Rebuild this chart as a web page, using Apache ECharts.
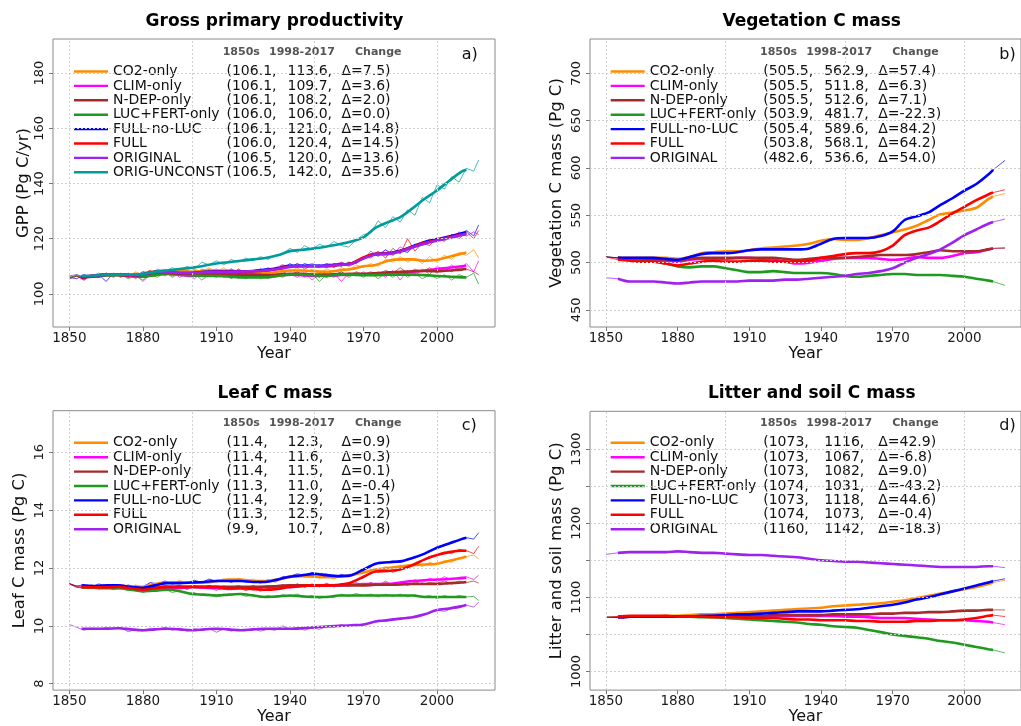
<!DOCTYPE html>
<html>
<head>
<meta charset="utf-8">
<script src="https://cdn.jsdelivr.net/npm/echarts@6/dist/echarts.min.js"></script>
<style>
  html, body { margin: 0; padding: 0; background: #fff; }
  #chart { width: 1021px; height: 726px; }
</style>
</head>
<body>
<div id="chart"></div>
<script>
// Model runs, in legend order, with their line colours
const runNames = ['CO2-only', 'CLIM-only', 'N-DEP-only', 'LUC+FERT-only', 'FULL-no-LUC', 'FULL', 'ORIGINAL', 'ORIG-UNCONST'];
const runColors = ['#ff8c00', '#ff00ff', '#a52a2a', '#1f9a1f', '#0000ff', '#ff0000', '#a020f0', '#009b9b'];

// Axis ticks and grid positions
const xTicks = [1850, 1880, 1910, 1940, 1970, 2000];
const xGridLines = [1850, 1900, 1950, 2000];
const gppTicks = [100, 120, 140, 160, 180];
const vegTicks = [450, 500, 550, 600, 650, 700];
const leafTicks = [8, 10, 12, 14, 16];
const soilTicks = [1000, 1050, 1100, 1150, 1200, 1250, 1300];
const soilTickLabels = [1000, 1100, 1200, 1300];

// Year columns
const annualYears = [1850,1853,1856,1859,1862,1865,1868,1871,1874,1877,
  1880,1883,1886,1889,1892,1895,1898,1901,1904,1907,
  1910,1913,1916,1919,1922,1925,1928,1931,1934,1937,
  1940,1943,1946,1949,1952,1955,1958,1961,1964,1967,
  1970,1973,1976,1979,1982,1985,1988,1991,1994,1997,
  2000,2003,2006,2009,2012,2015,2017];
const smoothYears = [1855,1860,1865,1870,1875,1880,1885,1890,1895,1900,
  1905,1910,1915,1920,1925,1930,1935,1940,1945,1950,
  1955,1960,1965,1970,1975,1980,1985,1990,1995,2000,
  2005,2010,2012];
const stockYears = [1850,1855,1860,1865,1870,1875,1880,1885,1890,1895,
  1900,1905,1910,1915,1920,1925,1930,1935,1940,1945,
  1950,1955,1960,1965,1970,1975,1980,1985,1990,1995,
  2000,2005,2010,2012,2017];

// GPP (Pg C/yr): annual values, one row per run
const gppAnnual = [
  [106,106.5,105.5,107,106.5,107.5,106.5,107.5,106,108, 107,108.5,107.5,109,108,109,107.5,109,108,109.5, 108,109.5,107.5,109,107.5,108.5,107,108.5,107,109, 108,109.5,107.5,109,107.5,109,108,109.5,108.5,110.5, 109.5,111,110,112.5,111.5,113.5,111.5,113,111,113.5, 111.5,114,112.5,115,114,116,113],
  [105.5,106.5,105,107,106,107,106,107.5,106,107, 104.5,107,108,106.5,108,106,107.5,105.5,107.5,106.5, 108,106,107.5,105.5,107.5,106,107.5,105.5,107,106, 107.5,106,107.5,105,107,106,107.5,104.5,107.5,106.5, 108,106.5,108,106,108.5,105,108.5,106.5,109,107, 110,108.5,110.5,109,111,108,112],
  [106,106.5,105.5,106.5,106,107,106.5,107,106,107, 106,107.5,107,108,106.5,108,106.5,107.5,106.5,108, 106.5,107.5,106,107.5,106.5,107.5,106,107.5,106.5,108, 107,108,106.5,107.5,106,108,107,108,106.5,108, 107,108,107,108.5,107.5,109.5,107.5,109,108,109.5, 107.5,109.5,108,110,109,108,107],
  [106,106.5,105.5,106.5,106,107,106.5,107,105.5,106.5, 105,107,106,108,106,107.5,106.5,107.5,105,107, 106,107.5,105.5,107,105.5,107,105.5,107,106,107.5, 106.5,108,106,107.5,104.5,107,106,108,106,107.5, 106,107.5,105.5,107.5,106,108,106,107.5,105.5,107, 105.5,107,105,107,106,107.5,103.5],
  [106,105.5,107,106,107,104.5,107.5,106.5,107,106.5, 108,107.5,108.5,107.5,108,107,108.5,107.5,108.5,107.5, 108.5,107.5,109,107.5,108.5,108,109,108,109.5,109, 111,109.5,111,110,110.5,109.5,111,110,111.5,111, 113,114.5,114,116,114,116,115,117.5,118.5,119, 120,119.5,121.5,121,123,121,125],
  [105.5,106.5,105,107,106.5,107.5,107,106,107.5,105.5, 107.5,108.5,107,108.5,107,108.5,106.5,108.5,107,109, 107.5,108.5,107,109,107.5,108.5,107,109.5,108.5,110.5, 109.5,111,109,110.5,109.5,111,109.5,111.5,110,111.5, 113.5,113,115.5,113,116.5,114.5,120,115.5,118.5,117.5, 120.5,119,121.5,120,122.5,120,123],
  [106.5,107,106,107,106.5,107.5,107,107,106.5,107.5, 106.5,108,108.5,107.5,108.5,107,108.5,107,109,108, 109,107.5,109,108,108.5,107.5,109,108,109.5,110.5, 109.5,111,110,111,110,111,110.5,111.5,110.5,112, 112.5,115.5,113.5,116,114.5,117,115.5,118,117.5,120, 119,120.5,120,122.5,121,122.5,121.5],
  [105.5,107,106,106.5,107.5,106.5,107.5,106.5,107.5,106, 108,107,109,108,109.5,108.5,110,109,111.5,110.5, 112,110.5,112.5,111.5,113,112,113.5,112.5,114,114.5, 116.5,115,117.5,116,118,117,119,117.5,117,119.5, 121.5,122,126.5,124,128,126,130.5,128.5,135,133, 139.5,138,142.5,140.5,145.5,144.5,148.5]
];
// GPP running means
const gppSmooth = [
  [106.2,106.6,107,107,106.8,107,108,108.5,108.3,108, 108.3,108.5,108.5,108,107.8,107.6,108,108.5,108.5,108.2, 108,108.5,109,110,110.5,112,112.5,112.5,112,112.4, 113.5,114.6,115],
  [106,106.3,106.8,107,106.5,106.2,107,107.5,107,106.5, 106.8,107,107,107,106.8,106.5,106.8,107,106.8,106.5, 106.5,106.8,107,107,107.2,107.5,107.5,108,108.5,109, 109.5,110,110.2],
  [106,106.3,106.8,107,106.7,106.5,107,107.5,107.3,107, 107,107,107,107,107,106.8,107,107.3,107.3,107, 107,107.2,107.3,107.3,107.5,107.8,108,108.2,108.3,108.2, 108.5,108.8,109],
  [106,106.3,106.8,106.8,106.5,106.3,106.8,107.2,107,106.7, 106.5,106.5,106.3,106,106,106,106.5,107,107,106.8, 106.5,107,107,106.8,106.8,107,107,107,106.8,106.5, 106.3,106,106],
  [106,106.5,107,107,106.7,107,108,107.8,107.6,107.6, 108,108.2,108.2,108.2,108.3,108.8,109.3,110.2,110.2,110.2, 110.3,110.6,111,113,114.5,114.7,115.6,117.2,118.8,119.8, 120.8,122,122.3],
  [106,106.5,107,107,106.6,107,108,107.6,107.5,107.5, 107.8,108,108,108,108.2,108.5,109,110,110,110, 110,110.5,111,113.2,114.5,114.5,115.5,117,118.5,119.5, 120.5,121.5,121.8],
  [106.5,106.6,107,107,106.8,107,107.8,107.8,107.6,107.6, 107.8,108,108,108.1,108.2,108.5,109,109.8,110,110, 110.2,110.5,110.8,112.8,114.3,114.5,115.3,116.8,118.2,119.3, 120.3,121.3,121.6],
  [106.5,106.6,107,107,107,107.2,108,108.5,109,109.5, 110.2,111,111.5,112,112.5,113,114,115.5,116,116.5, 117.2,118,119,120.5,124,126,127.8,131,134.5,137.5, 141,144.3,145]
];
const gppBase = [106.1, 106.1, 106.1, 106.0, 106.1, 106.0, 106.5, 106.5];
const gppRecent = [113.6, 109.7, 108.2, 106.0, 121.0, 120.4, 120.0, 142.0];
const gppChange = [7.5, 3.6, 2.0, 0.0, 14.8, 14.5, 13.6, 35.6];

// Vegetation C mass (Pg C)
const vegStock = [
  [506,505,505,505,505,505,504,506,510,511, 512,512,513,515,516,517,518,520,523,525, 524,524,526,529,532,535,539,545,551,553, 555,558,567,570,573],
  [506,505,503,503,503,502,501,503,504,504, 504,505,505,504,503,501,499,500,502,504, 505,505,505,504,503,504,506,505,505,507, 510,511,514,515,516],
  [506,505,504,504,504,503,502,504,505,505, 505,505,505,505,505,504,503,504,505,505, 505,506,507,508,508,508,509,511,513,512, 512,512,514,515,515],
  [506,505,503,502,501,499,496,495,496,496, 494,492,490,490,491,490,489,489,489,488, 486,485,486,487,488,488,487,487,487,486, 485,483,481,480,476],
  [506,505,505,505,505,504,503,506,509,510, 510,511,513,514,514,514,514,515,520,525, 526,526,526,528,533,545,549,553,561,568, 576,583,593,598,608],
  [506,503,502,501,501,499,497,499,501,502, 501,501,502,502,501,501,501,502,505,507, 509,510,510,512,518,529,534,537,544,552, 559,566,572,574,577],
  [484,483,480,480,480,479,478,479,480,480, 480,480,481,481,481,482,482,483,484,485, 486,488,489,491,494,500,505,509,514,521, 529,535,541,543,546]
];
const vegBase = [505.5, 505.5, 505.5, 503.9, 505.4, 503.8, 482.6];
const vegRecent = [562.9, 511.8, 512.6, 481.7, 589.6, 568.1, 536.6];
const vegChange = [57.4, 6.3, 7.1, -22.3, 84.2, 64.2, 54.0];

// Leaf C mass (Pg C)
const leafAnnual = [
  [11.45,11.38,11.32,11.42,11.36,11.4,11.33,11.42,11.3,11.42, 11.32,11.48,11.42,11.55,11.45,11.58,11.46,11.55,11.45,11.6, 11.5,11.62,11.52,11.65,11.55,11.62,11.5,11.6,11.5,11.68, 11.65,11.78,11.68,11.75,11.65,11.72,11.62,11.75,11.68,11.82, 11.82,11.95,11.9,12.05,11.95,12.1,12.0,12.15,12.05,12.2, 12.12,12.25,12.2,12.35,12.4,12.45,12.32],
  [11.45,11.33,11.38,11.3,11.4,11.32,11.38,11.28,11.35,11.22, 11.33,11.38,11.25,11.35,11.28,11.38,11.25,11.4,11.3,11.35, 11.22,11.35,11.25,11.3,11.28,11.4,11.3,11.38,11.32,11.42, 11.3,11.45,11.35,11.42,11.35,11.48,11.35,11.45,11.38,11.5, 11.4,11.5,11.4,11.55,11.42,11.5,11.45,11.6,11.5,11.65, 11.55,11.7,11.6,11.68,11.7,11.6,11.75],
  [11.48,11.35,11.3,11.38,11.3,11.35,11.28,11.35,11.28,11.38, 11.25,11.35,11.3,11.38,11.32,11.4,11.3,11.38,11.32,11.4, 11.3,11.38,11.33,11.4,11.3,11.38,11.32,11.38,11.3,11.42, 11.35,11.45,11.35,11.42,11.38,11.45,11.35,11.45,11.38,11.45, 11.38,11.48,11.4,11.5,11.42,11.5,11.4,11.52,11.45,11.5, 11.48,11.55,11.45,11.55,11.5,11.55,11.48],
  [11.45,11.35,11.3,11.35,11.28,11.32,11.25,11.3,11.22,11.25, 11.15,11.25,11.2,11.28,11.15,11.22,11.12,11.15,11.05,11.1, 11.0,11.1,11.05,11.12,11.02,11.08,10.98,11.05,10.98,11.08, 11.02,11.1,11.0,11.05,10.95,11.02,10.98,11.1,11.02,11.12, 11.05,11.1,11.0,11.1,11.02,11.1,11.0,11.08,11.0,11.05, 10.95,11.05,10.98,11.05,11.0,11.02,10.88],
  [11.45,11.38,11.42,11.35,11.45,11.38,11.42,11.3,11.42,11.32, 11.35,11.5,11.45,11.55,11.45,11.52,11.48,11.58,11.5,11.62, 11.55,11.6,11.5,11.6,11.52,11.55,11.48,11.58,11.55,11.7, 11.72,11.8,11.75,11.85,11.78,11.8,11.68,11.78,11.72,11.8, 11.95,12.05,12.2,12.2,12.25,12.2,12.3,12.35,12.45,12.6, 12.7,12.8,12.85,12.95,13.05,13.0,13.22],
  [11.45,11.35,11.3,11.38,11.3,11.35,11.28,11.35,11.25,11.32, 11.2,11.3,11.35,11.4,11.32,11.4,11.3,11.38,11.3,11.4, 11.32,11.35,11.25,11.32,11.22,11.3,11.2,11.3,11.25,11.38, 11.32,11.42,11.35,11.45,11.35,11.42,11.38,11.45,11.48,11.6, 11.65,11.85,11.9,11.95,11.85,11.95,12.0,12.15,12.25,12.4, 12.45,12.55,12.5,12.65,12.6,12.5,12.75],
  [10.05,9.95,9.85,9.92,9.88,9.95,9.9,9.95,9.8,9.88, 9.82,9.92,9.88,9.95,9.85,9.92,9.82,9.9,9.85,9.92, 9.78,9.9,9.82,9.88,9.85,9.9,9.82,9.88,9.85,10.0, 9.88,9.95,9.85,9.95,9.88,9.98,9.95,10.05,9.98,10.05, 10.02,10.12,10.2,10.15,10.25,10.22,10.3,10.28,10.35,10.45, 10.55,10.5,10.6,10.62,10.72,10.65,10.82]
];
const leafSmooth = [
  [11.4,11.35,11.35,11.4,11.35,11.35,11.45,11.5,11.5,11.5, 11.5,11.55,11.6,11.6,11.55,11.55,11.6,11.7,11.72,11.7, 11.68,11.7,11.75,11.85,11.95,12.0,12.05,12.1,12.12,12.15, 12.25,12.35,12.4],
  [11.35,11.35,11.35,11.35,11.3,11.3,11.3,11.3,11.3,11.35, 11.32,11.3,11.28,11.3,11.32,11.35,11.35,11.35,11.38,11.4, 11.4,11.4,11.42,11.45,11.45,11.45,11.5,11.55,11.58,11.6, 11.62,11.65,11.66],
  [11.35,11.33,11.33,11.35,11.32,11.3,11.32,11.35,11.35,11.35, 11.35,11.35,11.35,11.35,11.35,11.35,11.38,11.4,11.4,11.4, 11.4,11.4,11.4,11.4,11.42,11.42,11.43,11.45,11.45,11.45, 11.48,11.5,11.52],
  [11.35,11.32,11.3,11.3,11.25,11.2,11.22,11.25,11.2,11.1, 11.08,11.05,11.08,11.1,11.05,11.0,11.02,11.05,11.02,11.0, 11.0,11.05,11.05,11.05,11.05,11.05,11.05,11.05,11.0,11.0, 11.0,11.0,11.0],
  [11.4,11.38,11.4,11.4,11.35,11.32,11.4,11.48,11.48,11.5, 11.52,11.55,11.55,11.55,11.52,11.52,11.6,11.7,11.75,11.8, 11.75,11.72,11.75,11.95,12.15,12.2,12.23,12.35,12.5,12.7, 12.85,13.0,13.05],
  [11.35,11.33,11.33,11.35,11.3,11.25,11.3,11.35,11.35,11.35, 11.35,11.35,11.3,11.3,11.27,11.25,11.28,11.35,11.38,11.4, 11.4,11.42,11.5,11.7,11.88,11.9,11.95,12.1,12.3,12.45, 12.55,12.6,12.6],
  [9.9,9.9,9.9,9.92,9.88,9.85,9.88,9.9,9.88,9.85, 9.88,9.9,9.88,9.85,9.88,9.9,9.9,9.9,9.92,9.95, 9.98,10.0,10.02,10.05,10.15,10.2,10.25,10.3,10.4,10.55, 10.6,10.68,10.72]
];
const leafBase = [11.4, 11.4, 11.4, 11.3, 11.4, 11.3, 9.9];
const leafRecent = [12.3, 11.6, 11.5, 11.0, 12.9, 12.5, 10.7];
const leafChange = [0.9, 0.3, 0.1, -0.4, 1.5, 1.2, 0.8];

// Litter and soil C mass (Pg C)
const soilStock = [
  [1073,1073,1074,1074,1074,1075,1075,1076,1077,1077, 1078,1079,1080,1081,1082,1083,1084,1085,1086,1088, 1089,1090,1091,1092,1094,1096,1099,1102,1105,1108, 1111,1114,1118,1120,1123],
  [1073,1073,1074,1074,1074,1074,1074,1074,1074,1074, 1074,1074,1074,1074,1075,1075,1075,1075,1075,1075, 1074,1074,1073,1072,1072,1072,1071,1070,1069,1069, 1069,1068,1067,1066,1063],
  [1073,1073,1074,1074,1074,1074,1074,1074,1074,1075, 1075,1075,1075,1075,1076,1076,1076,1076,1076,1077, 1077,1077,1077,1078,1078,1079,1079,1080,1080,1081, 1082,1082,1083,1083,1083],
  [1073,1074,1074,1074,1074,1074,1074,1074,1073,1073, 1072,1071,1070,1069,1068,1067,1066,1064,1063,1061, 1060,1059,1056,1053,1050,1048,1046,1044,1041,1039, 1036,1033,1030,1029,1025],
  [1073,1073,1074,1074,1074,1074,1074,1074,1075,1075, 1076,1077,1077,1078,1079,1080,1081,1081,1081,1082, 1083,1084,1086,1088,1090,1093,1097,1100,1104,1108, 1112,1116,1120,1122,1125],
  [1073,1074,1075,1075,1075,1075,1074,1074,1074,1073, 1073,1073,1072,1072,1072,1071,1070,1070,1069,1069, 1069,1068,1068,1067,1067,1067,1068,1068,1069,1069, 1070,1072,1075,1076,1074],
  [1158,1160,1161,1161,1161,1161,1162,1161,1160,1160, 1159,1158,1157,1157,1156,1155,1154,1152,1150,1149, 1148,1148,1147,1146,1145,1144,1143,1142,1141,1141, 1141,1141,1142,1142,1140]
];
const soilBase = [1073, 1073, 1073, 1074, 1073, 1074, 1160];
const soilRecent = [1116, 1067, 1082, 1031, 1118, 1073, 1142];
const soilChange = [42.9, -6.8, 9.0, -43.2, 44.6, -0.4, -18.3];

const FONT = 'DejaVu Sans';
const X_MIN = 1843.32, X_MAX = 2023.68;

// Running-mean part of the stock records: 1855 to 2012
const stockThickYears = stockYears.slice(1, 34);
const stockThick = rows => rows.map(r => r.slice(1, 34));

const panels = [
  { grid: { left: 53, top: 39, width: 442, height: 288 }, yMin: 88, yMax: 192.4,
    yTicks: gppTicks, yLabels: gppTicks, yGrid: gppTicks, yName: 'GPP (Pg C/yr)', nameGap: 20,
    title: 'Gross primary productivity', titleX: 274.5, titleY: 21.7, letter: 'a)', letterX: 461.7, letterY: 55,
    headerX: 222.7, headerY: 51.7, legendLeft: 74, legendTop: 64.3, count: 8,
    thinYears: annualYears, thin: gppAnnual, thickYears: smoothYears, thick: gppSmooth,
    base: gppBase, recent: gppRecent, change: gppChange, digits: 1 },
  { grid: { left: 590, top: 39, width: 443, height: 288 }, yMin: 432, yMax: 736.2,
    yTicks: vegTicks, yLabels: vegTicks, yGrid: vegTicks, yName: 'Vegetation C mass (Pg C)', nameGap: 24.5,
    title: 'Vegetation C mass', titleX: 811.7, titleY: 21.7, letter: 'b)', letterX: 999.3, letterY: 55,
    headerX: 760, headerY: 51.7, legendLeft: 610.7, legendTop: 64.3, count: 7,
    thinYears: stockYears, thin: vegStock, thickYears: stockThickYears, thick: stockThick(vegStock),
    base: vegBase, recent: vegRecent, change: vegChange, digits: 1 },
  { grid: { left: 53, top: 410.7, width: 442, height: 288.3 }, yMin: 7.78, yMax: 17.44,
    yTicks: leafTicks, yLabels: leafTicks, yGrid: leafTicks, yName: 'Leaf C mass (Pg C)', nameGap: 24.5,
    title: 'Leaf C mass', titleX: 275, titleY: 393.7, letter: 'c)', letterX: 461.7, letterY: 426.3,
    headerX: 222.7, headerY: 423, legendLeft: 74, legendTop: 435.6, count: 7,
    thinYears: annualYears, thin: leafAnnual, thickYears: smoothYears, thick: leafSmooth,
    base: leafBase, recent: leafRecent, change: leafChange, digits: 1 },
  { grid: { left: 590, top: 411.3, width: 443, height: 287.7 }, yMin: 974.8, yMax: 1351,
    yTicks: soilTicks, yLabels: soilTickLabels, yGrid: soilTicks, yName: 'Litter and soil mass (Pg C)', nameGap: 24.5,
    title: 'Litter and soil C mass', titleX: 811.8, titleY: 393.7, letter: 'd)', letterX: 999.3, letterY: 426.3,
    headerX: 760, headerY: 423, legendLeft: 610.7, legendTop: 435.6, count: 7,
    thinYears: stockYears, thin: soilStock, thickYears: stockThickYears, thick: stockThick(soilStock),
    base: soilBase, recent: soilRecent, change: soilChange, digits: 0 }
];

const option = {
  backgroundColor: '#ffffff',
  animation: false,
  grid: [], xAxis: [], yAxis: [], legend: [], series: [], graphic: []
};

const richBase = { fontFamily: FONT, fontSize: 14, color: '#111', lineHeight: 14.4 };
const plain = v => String(v);

panels.forEach((p, k) => {
  option.grid.push(Object.assign({ show: true, borderColor: '#8a8a8a', borderWidth: 1, backgroundColor: 'transparent' }, p.grid));

  option.xAxis.push({
    type: 'value', gridIndex: k, min: X_MIN, max: X_MAX,
    name: 'Year', nameLocation: 'middle', nameGap: 11,
    nameTextStyle: { fontFamily: FONT, fontSize: 16, color: '#111' },
    axisLine: { show: false }, splitLine: { show: false },
    axisTick: { show: true, customValues: xTicks, length: 4, lineStyle: { color: '#777' } },
    axisLabel: { customValues: xTicks, formatter: plain, fontFamily: FONT, fontSize: 13.5, color: '#1a1a1a', margin: 4 }
  });

  option.yAxis.push({
    type: 'value', gridIndex: k, min: p.yMin, max: p.yMax,
    name: p.yName, nameLocation: 'middle', nameGap: p.nameGap, nameRotate: 90,
    nameTextStyle: { fontFamily: FONT, fontSize: 16.5, color: '#111' },
    axisLine: { show: false }, splitLine: { show: false },
    axisTick: { show: true, customValues: p.yTicks, length: 4, lineStyle: { color: '#777' } },
    axisLabel: { customValues: p.yLabels, formatter: plain, rotate: 90, fontFamily: FONT, fontSize: 13, color: '#1a1a1a', margin: 7 }
  });

  // dotted reference grid
  option.series.push({
    type: 'line', xAxisIndex: k, yAxisIndex: k, data: [], silent: true, z: 1,
    markLine: {
      silent: true, symbol: ['none', 'none'], animation: false,
      label: { show: false },
      lineStyle: { color: '#cfcfcf', type: [2, 2], width: 1 },
      emphasis: { disabled: true },
      data: xGridLines.map(v => ({ xAxis: v })).concat(p.yGrid.map(v => ({ yAxis: v })))
    }
  });

  // running means (thick)
  for (let i = 0; i < p.count; i++) {
    option.series.push({
      type: 'line', name: runNames[i], xAxisIndex: k, yAxisIndex: k, z: 3,
      data: p.thickYears.map((y, j) => [y, p.thick[i][j]]),
      symbol: 'none', smooth: 0.3, silent: true,
      lineStyle: { width: 2.6, color: runColors[i] }, itemStyle: { color: runColors[i] }
    });
  }
  // yearly values (thin, translucent)
  for (let i = 0; i < p.count; i++) {
    option.series.push({
      type: 'line', name: runNames[i], xAxisIndex: k, yAxisIndex: k, z: 2,
      data: p.thinYears.map((y, j) => [y, p.thin[i][j]]),
      symbol: 'none', silent: true,
      lineStyle: { width: 1, color: runColors[i], opacity: 0.7 }, itemStyle: { color: runColors[i] }
    });
  }

  const fmt = v => v.toFixed(p.digits);
  option.legend.push({
    orient: 'vertical', left: p.legendLeft, top: p.legendTop, padding: 0, itemGap: 0,
    icon: 'rect', itemWidth: 34, itemHeight: 2.4, selectedMode: false,
    data: runNames.slice(0, p.count),
    textStyle: {
      fontFamily: FONT, fontSize: 14, color: '#111', lineHeight: 14.4,
      rich: {
        n: Object.assign({ width: 113.5 }, richBase),
        a: Object.assign({ width: 61 }, richBase),
        b: Object.assign({ width: 54 }, richBase),
        c: Object.assign({}, richBase)
      }
    },
    formatter: name => {
      const i = runNames.indexOf(name);
      return '{n|' + name + '}{a|(' + fmt(p.base[i]) + ',}{b|' + fmt(p.recent[i]) + ',}{c|\u0394=' + p.change[i].toFixed(1) + ')}';
    }
  });

  option.graphic.push(
    { type: 'text', x: p.titleX, y: p.titleY, silent: true,
      style: { text: p.title, fontFamily: FONT, fontSize: 17, fontWeight: 'bold', fill: '#000', align: 'center', verticalAlign: 'middle' } },
    { type: 'text', x: p.letterX, y: p.letterY, silent: true,
      style: { text: p.letter, fontFamily: FONT, fontSize: 16, fill: '#111', align: 'left', verticalAlign: 'middle' } },
    { type: 'text', x: p.headerX, y: p.headerY, silent: true,
      style: { text: '1850s', fontFamily: FONT, fontSize: 11, fontWeight: 'bold', fill: '#555', align: 'left', verticalAlign: 'middle' } },
    { type: 'text', x: p.headerX + 46.3, y: p.headerY, silent: true,
      style: { text: '1998-2017', fontFamily: FONT, fontSize: 11, fontWeight: 'bold', fill: '#555', align: 'left', verticalAlign: 'middle' } },
    { type: 'text', x: p.headerX + 132.3, y: p.headerY, silent: true,
      style: { text: 'Change', fontFamily: FONT, fontSize: 11, fontWeight: 'bold', fill: '#555', align: 'left', verticalAlign: 'middle' } }
  );
});

const chart = echarts.init(document.getElementById('chart'), null, { renderer: 'canvas' });
chart.setOption(option);
</script>
</body>
</html>
